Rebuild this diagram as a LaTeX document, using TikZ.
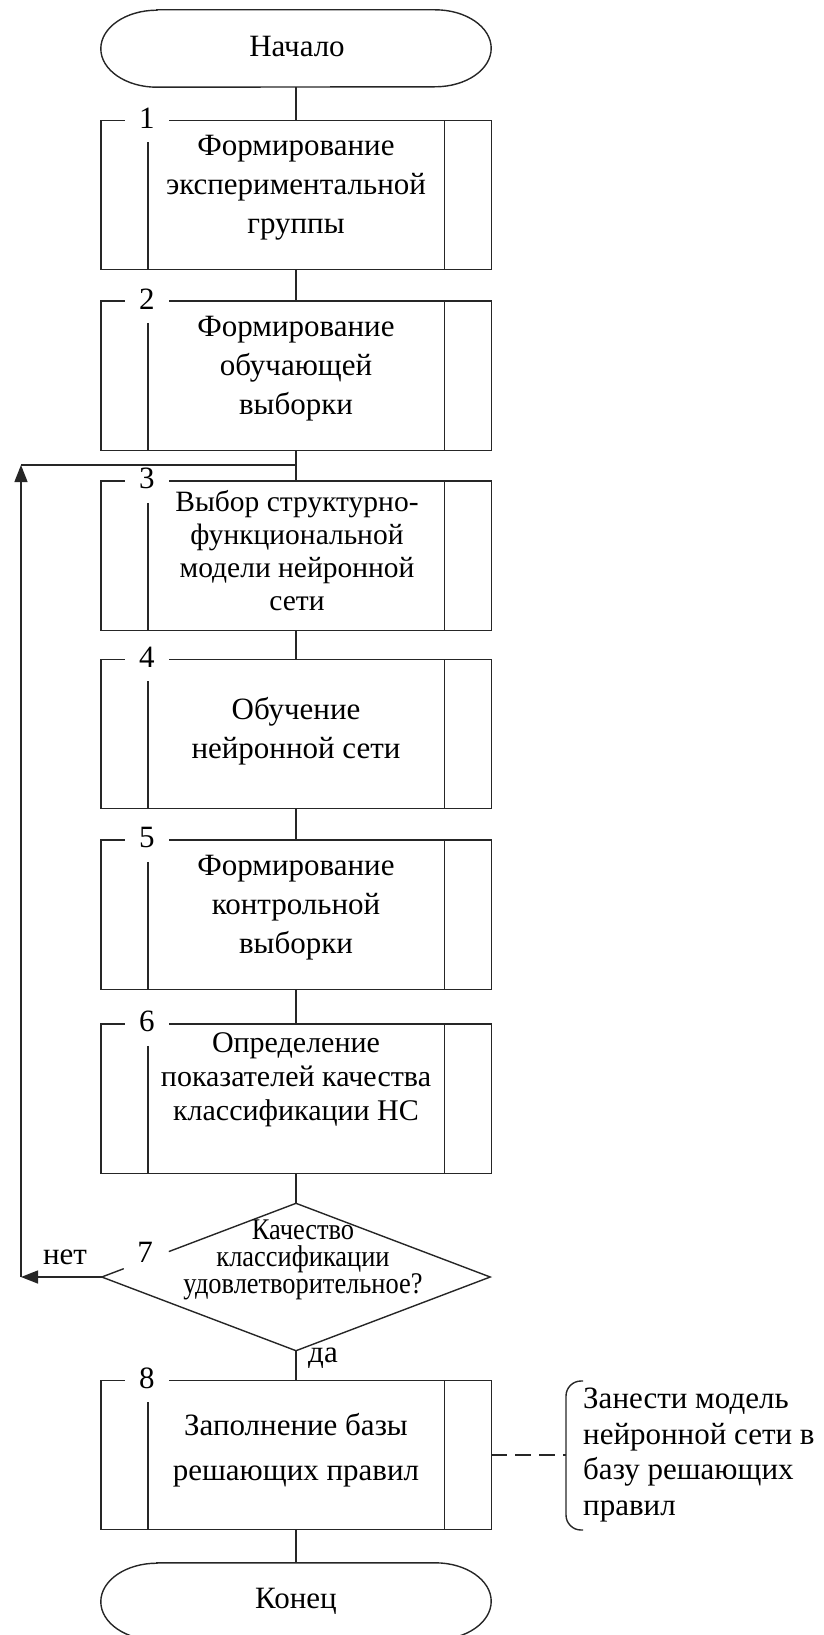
\documentclass[tikz,border=0pt]{standalone}
\usepackage{fontspec}
\setmainfont{Liberation Serif}
\newfontfamily\narrowserif[FakeStretch=0.88]{Liberation Serif}
\usetikzlibrary{calc,arrows.meta}

\tikzset{
  line/.style={line width=1.4pt, draw=black!85},
  procbox/.style={draw=none, rectangle, minimum width=390pt, minimum height=149pt, inner sep=0pt},
  termbox/.style={draw=none, rectangle, minimum width=390pt, minimum height=77pt, inner sep=0pt},
  decbox/.style={draw=none, rectangle, minimum width=388pt, minimum height=147pt, inner sep=0pt},
  txt/.style={font=\fontsize{31}{39}\selectfont, align=center, inner sep=0pt},
  txtsmall/.style={font=\fontsize{29.5}{33}\selectfont, align=center, inner sep=0pt},
  num/.style={font=\fontsize{31}{39}\selectfont, inner sep=0pt},
  arrowline/.style={line, -{Triangle[length=17pt,width=13pt]}},
  dashline/.style={line, dash pattern=on 16pt off 8pt},
}

% process block with a gap for its number and two inner side bars
\newcommand\procframe[2]{%
  \draw[line] ([xshift=24pt]#1.north west) -- (#1.north west) -- (#1.south west)
    -- (#1.south east) -- (#1.north east) -- ([xshift=68pt]#1.north west);
  \draw[line] ([xshift=47pt,yshift=-22pt]#1.north west) -- ([xshift=47pt]#1.south west);
  \draw[line] ([xshift=-47pt]#1.north east) -- ([xshift=-47pt]#1.south east);
  \node[num] (#1num) at ([xshift=46pt,yshift=2pt]#1.north west) {#2};
}
% terminal with elliptic ends
\newcommand\termframe[1]{%
  \draw[line] ([xshift=56pt]#1.north west) -- ([xshift=-56pt]#1.north east)
    arc[start angle=90, end angle=-90, x radius=56pt, y radius=38.5pt]
    -- ([xshift=56pt]#1.south west)
    arc[start angle=270, end angle=90, x radius=56pt, y radius=38.5pt] -- cycle;
}

\begin{document}
\begin{tikzpicture}[x=1pt, y=-1pt]
\useasboundingbox (0,0) rectangle (823,1635);
\clip (0,0) rectangle (823,1635);

% start / end
\node[termbox] (start) at (296,48.5) {};
\termframe{start}
\node[txt] (startt) at (297,47) {Начало};

\node[termbox] (finish) at (296,1601.5) {};
\termframe{finish}
\node[txt] (finisht) at (296,1601) {Конец};

% process blocks
\node[procbox] (b1) at (296,195) {};
\procframe{b1}{1}
\node[txt] (b1t) at (296,188) {Формирование\\экспериментальной\\группы};

\node[procbox] (b2) at (296,375.5) {};
\procframe{b2}{2}
\node[txt] (b2t) at (296,369) {Формирование\\обучающей\\выборки};

\node[procbox] (b3) at (296,555.5) {};
\procframe{b3}{3}
\node[txtsmall] (b3t) at (297,551) {Выбор структурно-\\функциональной\\модели нейронной\\сети};

\node[procbox] (b4) at (296,734) {};
\procframe{b4}{4}
\node[txt] (b4t) at (296,731) {Обучение\\нейронной сети};

\node[procbox] (b5) at (296,914.5) {};
\procframe{b5}{5}
\node[txt] (b5t) at (296,908) {Формирование\\контрольной\\выборки};

\node[procbox] (b6) at (296,1098.5) {};
\procframe{b6}{6}
\node[txtsmall, font=\fontsize{30}{34}\selectfont] (b6t) at (296,1080) {Определение\\показателей качества\\классификации НС};

% decision, its upper left edge broken around the number
\node[decbox] (d) at (296,1277) {};
\draw[line] (d.west) -- ($(d.west)!0.113!(d.north)$);
\draw[line] ($(d.west)!0.345!(d.north)$) -- (d.north) -- (d.east) -- (d.south) -- (d.west);
\node[num] (dnum) at (145,1252) {7};
\node[txt, font=\narrowserif\fontsize{30}{27}\selectfont] (dt) at (303,1260)
  {Качество\\классификации\\удовлетворительное?};

\node[procbox] (b8) at (296,1455) {};
\procframe{b8}{8}
\node[txt, font=\fontsize{31}{45}\selectfont] (b8t) at (296,1450) {Заполнение базы\\решающих правил};

% comment
\coordinate (brk) at (566,1455);
\draw[line, rounded corners=15pt] (583,1381) -- (566,1381) -- (566,1530) -- (583,1530);
\node[txt, align=left, anchor=west, font=\fontsize{31}{35.5}\selectfont] (note) at (583,1455)
  {Занести модель\\нейронной сети в\\базу решающих\\правил};
\draw[dashline] (b8.east) -- (brk);

% main flow
\draw[line] (start.south) -- (b1.north);
\draw[line] (b1.south) -- (b2.north);
\draw[line] (b2.south) -- (b3.north);
\draw[line] (b3.south) -- (b4.north);
\draw[line] (b4.south) -- (b5.north);
\draw[line] (b5.south) -- (b6.north);
\draw[line] (b6.south) -- (d.north);
\draw[line] (d.south) -- (b8.north);
\draw[line] (b8.south) -- (finish.north);
\node[num] (yes) at (323,1358) {да};

% loop back
\coordinate (nocorner) at (21,1277);
\coordinate (upcorner) at (21,465);
\coordinate (join) at (296,465);
\draw[arrowline] (d.west) -- (nocorner);
\draw[arrowline] (nocorner) -- (upcorner);
\draw[line] (upcorner) -- (join);
\node[num] (no) at (65,1257) {нет};
\end{tikzpicture}
\end{document}
